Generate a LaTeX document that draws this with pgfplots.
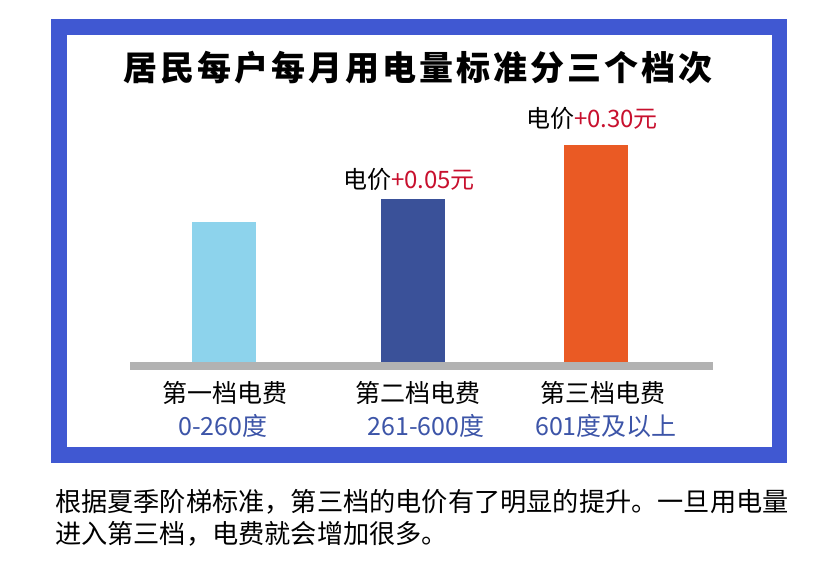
\documentclass[border=0pt]{standalone}
\usepackage{pgfplots}
\pgfplotsset{compat=1.18}
\usepackage{fontspec}
\setmainfont{Noto Sans CJK SC}
\definecolor{framecol}{HTML}{4058D2}
\definecolor{barA}{HTML}{8DD3EC}
\definecolor{barB}{HTML}{3A5199}
\definecolor{barC}{HTML}{EA5A24}
\definecolor{basecol}{HTML}{B2B2B2}
\definecolor{redtxt}{HTML}{C8102E}
\definecolor{bluetxt}{HTML}{3D55A8}
\begin{document}
\begin{tikzpicture}[x=1pt,y=1pt]
\path[use as bounding box] (0,0) rectangle (833,570);
% frame
\fill[framecol] (51,107) rectangle (787,551);
\fill[white] (67,123) rectangle (772,535);
% title
\node[inner sep=0, font=\fontsize{34}{40}\selectfont\bfseries\addfontfeatures{LetterSpace=9}] at (418,502) {居民每户每月用电量标准分三个档次};
\begin{axis}[
  at={(130pt,207pt)}, anchor=south west,
  scale only axis, width=583pt, height=263pt,
  xmin=130, xmax=713, ymin=0, ymax=263,
  hide axis, clip=false,
]
\addplot[ybar, bar width=64pt, bar shift=0pt, fill=barA, draw=none] coordinates {(223.5,141)};
\addplot[ybar, bar width=64pt, bar shift=0pt, fill=barB, draw=none] coordinates {(413,164)};
\addplot[ybar, bar width=64pt, bar shift=0pt, fill=barC, draw=none] coordinates {(595.5,218)};
\end{axis}
% baseline
\fill[basecol] (130,200) rectangle (713,207.5);
% bar labels
\node[inner sep=0, font=\fontsize{24}{28}\selectfont] at (409,391) {电价\textcolor{redtxt}{+0.05元}};
\node[inner sep=0, font=\fontsize{24}{28}\selectfont] at (592,452) {电价\textcolor{redtxt}{+0.30元}};
% category labels
\begin{scope}[every node/.style={inner sep=0, font=\fontsize{25}{30}\selectfont}]
\node at (225,177) {第一档电费};
\node at (418,177) {第二档电费};
\node at (603,177) {第三档电费};
\node[text=bluetxt] at (223,144) {0-260度};
\node[text=bluetxt] at (426,144) {261-600度};
\node[text=bluetxt] at (606,144) {601度及以上};
\end{scope}
% caption
\begin{scope}[every node/.style={inner sep=0, anchor=west, font=\fontsize{26.2}{30}\selectfont}]
\node at (55,68) {根据夏季阶梯标准，第三档的电价有了明显的提升。一旦用电量};
\node at (55,36) {进入第三档，电费就会增加很多。};
\end{scope}
\end{tikzpicture}
\end{document}
